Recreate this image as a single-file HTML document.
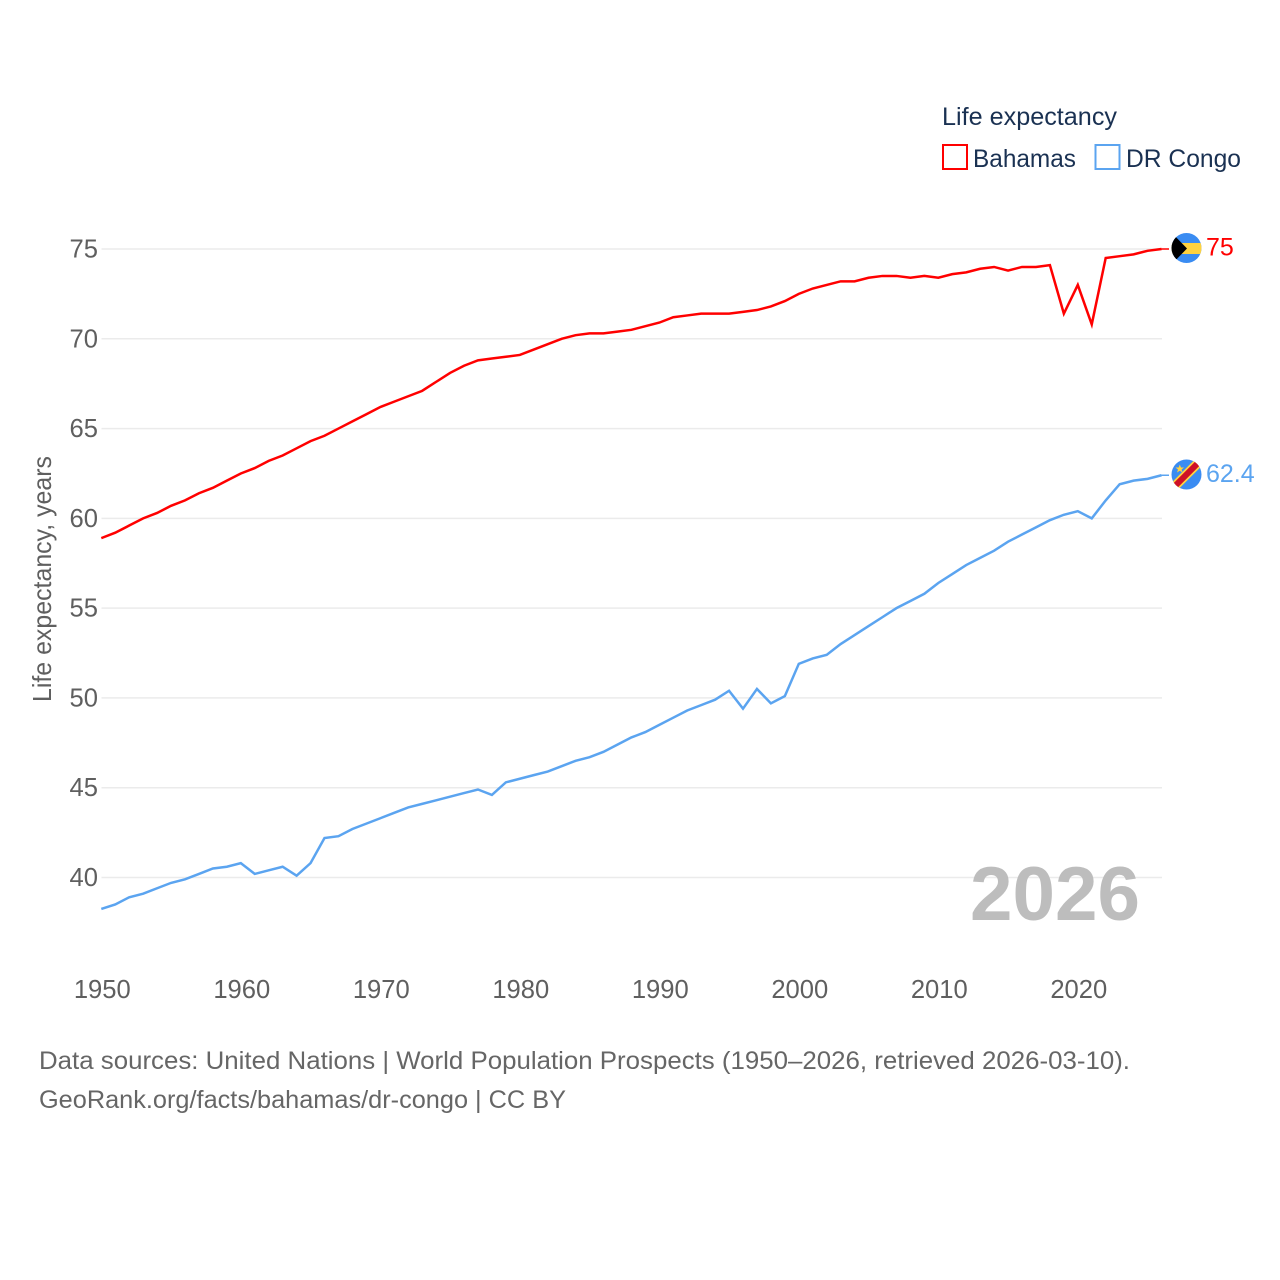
<!DOCTYPE html>
<html lang="en">
<head>
<meta charset="utf-8">
<title>Life expectancy: Bahamas and DR Congo</title>
<style>
html,body{margin:0;padding:0;background:#fff;width:1280px;height:1280px;overflow:hidden}
svg{display:block}
text{font-family:"Liberation Sans",sans-serif}
.tick{font-size:25.6px;fill:#5f5f5f}
.end{font-size:25px}
.legend{font-size:25px;fill:#1a3152}
.note{font-size:25px;fill:#666}
</style>
</head>
<body>
<svg id="chart" width="1280" height="1280" viewBox="0 0 1280 1280" xmlns="http://www.w3.org/2000/svg">
  <defs>
    <clipPath id="flag-clip-a"><circle cx="1186.500" cy="248" r="15"/></clipPath>
    <clipPath id="flag-clip-b"><circle cx="1186.500" cy="474.500" r="15"/></clipPath>
  </defs>
  <g id="grid"></g>
  <g id="y-ticks"></g>
  <g id="x-ticks"></g>
  <text class="tick" transform="translate(51,702) rotate(-90)" textLength="246" lengthAdjust="spacingAndGlyphs">Life expectancy, years</text>
  <g id="series"></g>

  <g>
    <text class="legend" x="942" y="125" textLength="175" lengthAdjust="spacingAndGlyphs">Life expectancy</text>
    <g>
      <rect x="943" y="145" width="24" height="24" fill="none" stroke="#ff0000" stroke-width="2"/>
      <text class="legend" x="973" y="167" textLength="103" lengthAdjust="spacingAndGlyphs">Bahamas</text>
    </g>
    <g>
      <rect x="1095.500" y="145" width="24" height="24" fill="none" stroke="#5ba4f0" stroke-width="2"/>
      <text class="legend" x="1126" y="167" textLength="115" lengthAdjust="spacingAndGlyphs">DR Congo</text>
    </g>
  </g>

  <g clip-path="url(#flag-clip-a)">
    <rect x="1171" y="233" width="31" height="30" fill="#3a8cf2"/>
    <rect x="1171" y="243" width="31" height="11" fill="#ffd23f"/>
    <path d="M1171 232 L1187 248.500 L1171 265 Z" fill="#000"/>
  </g>
  <g clip-path="url(#flag-clip-b)">
    <rect x="1171" y="459" width="31" height="31" fill="#3a8cf2"/>
    <line x1="1170" y1="491" x2="1203" y2="458" stroke="#ffd23f" stroke-width="9.500"/>
    <line x1="1170" y1="491" x2="1203" y2="458" stroke="#ce1126" stroke-width="6"/>
    <path d="M1179.800 464.500 L1181 467.500 L1184 467.500 L1181.600 469.500 L1182.500 472.500 L1179.800 470.800 L1177 472.500 L1178 469.500 L1175.500 467.500 L1178.600 467.500 Z" fill="#ffd23f"/>
  </g>

  <text id="year-label" x="970" y="920" font-size="76" font-weight="700" fill="#bdbdbd" textLength="170" lengthAdjust="spacingAndGlyphs"></text>

  <g>
    <text class="note" x="39" y="1069" textLength="1091" lengthAdjust="spacingAndGlyphs">Data sources: United Nations | World Population Prospects (1950–2026, retrieved 2026-03-10).</text>
    <text class="note" x="39" y="1108" textLength="527" lengthAdjust="spacingAndGlyphs">GeoRank.org/facts/bahamas/dr-congo | CC BY</text>
  </g>
</svg>
<script>
const firstYear = 1950;
const bahamas = [
  58.9,59.2,59.6,60.0,60.3,60.7,61.0,61.4,61.7,62.1,
  62.5,62.8,63.2,63.5,63.9,64.3,64.6,65.0,65.4,65.8,
  66.2,66.5,66.8,67.1,67.6,68.1,68.5,68.8,68.9,69.0,
  69.1,69.4,69.7,70.0,70.2,70.3,70.3,70.4,70.5,70.7,
  70.9,71.2,71.3,71.4,71.4,71.4,71.5,71.6,71.8,72.1,
  72.5,72.8,73.0,73.2,73.2,73.4,73.5,73.5,73.4,73.5,
  73.4,73.6,73.7,73.9,74.0,73.8,74.0,74.0,74.1,71.4,
  73.0,70.8,74.5,74.6,74.7,74.9,75.0
];
const drCongo = [
  38.25,38.5,38.9,39.1,39.4,39.7,39.9,40.2,40.5,40.6,
  40.8,40.2,40.4,40.6,40.1,40.8,42.2,42.3,42.7,43.0,
  43.3,43.6,43.9,44.1,44.3,44.5,44.7,44.9,44.6,45.3,
  45.5,45.7,45.9,46.2,46.5,46.7,47.0,47.4,47.8,48.1,
  48.5,48.9,49.3,49.6,49.9,50.4,49.4,50.5,49.7,50.1,
  51.9,52.2,52.4,53.0,53.5,54.0,54.5,55.0,55.4,55.8,
  56.4,56.9,57.4,57.8,58.2,58.7,59.1,59.5,59.9,60.2,
  60.4,60.0,61.0,61.9,62.1,62.2,62.4
];
const yTickLabels = [40,45,50,55,60,65,70,75];
const xTickLabels = [1950,1960,1970,1980,1990,2000,2010,2020];

const NS = 'http://www.w3.org/2000/svg';
const lastYear = firstYear + bahamas.length - 1;
function xScale(year){ return 101.3 + (year - 1950) * (1161.5 - 101.3) / 76; }
function yScale(v){ return 877.5 - (v - 40) * (877.5 - 249) / 35; }
function make(parent, tag, attrs, txt){
  const el = document.createElementNS(NS, tag);
  for (const k in attrs) el.setAttribute(k, attrs[k]);
  if (txt !== undefined) el.textContent = txt;
  parent.appendChild(el);
  return el;
}
const grid = document.getElementById('grid');
const yTicks = document.getElementById('y-ticks');
const xTicks = document.getElementById('x-ticks');
const seriesG = document.getElementById('series');

yTickLabels.forEach(function(t){
  const line = make(grid, 'line', {x1:101.5, x2:1162, y1:yScale(t), y2:yScale(t), stroke:'#ebebeb', 'stroke-width':1.5});
  
  
  const label = make(yTicks, 'text', {x:98, y:yScale(t)+8.500, 'text-anchor':'end', 'class':'tick'}, String(t));
  
  
});
xTickLabels.forEach(function(t){
  const label = make(xTicks, 'text', {x:xScale(t)+1, y:998, 'text-anchor':'middle', 'class':'tick'}, String(t));
  
  
});
function drawSeries(values, color, labelId){
  const pts = values.map(function(v, i){ return xScale(firstYear + i).toFixed(2) + ',' + yScale(v).toFixed(2); });
  const poly = make(seriesG, 'polyline', {points:pts.join(' '), fill:'none', stroke:color, 'stroke-width':2.5, 'stroke-linejoin':'miter'});
  
  
  const lastV = values[values.length - 1];
  const conn = make(seriesG, 'line', {x1:xScale(lastYear), x2:1169, y1:yScale(lastV), y2:yScale(lastV), stroke:color, 'stroke-width':1.5});
  
  
  const val = make(seriesG, 'text', {x:1206, y:yScale(lastV)+6.500, 'class':'end', fill:color}, String(lastV));
  
  
}
drawSeries(bahamas, '#ff0000', 'bahamas');
drawSeries(drCongo, '#5ba4f0', 'dr-congo');
document.getElementById('year-label').textContent = String(lastYear);
</script>
</body>
</html>
